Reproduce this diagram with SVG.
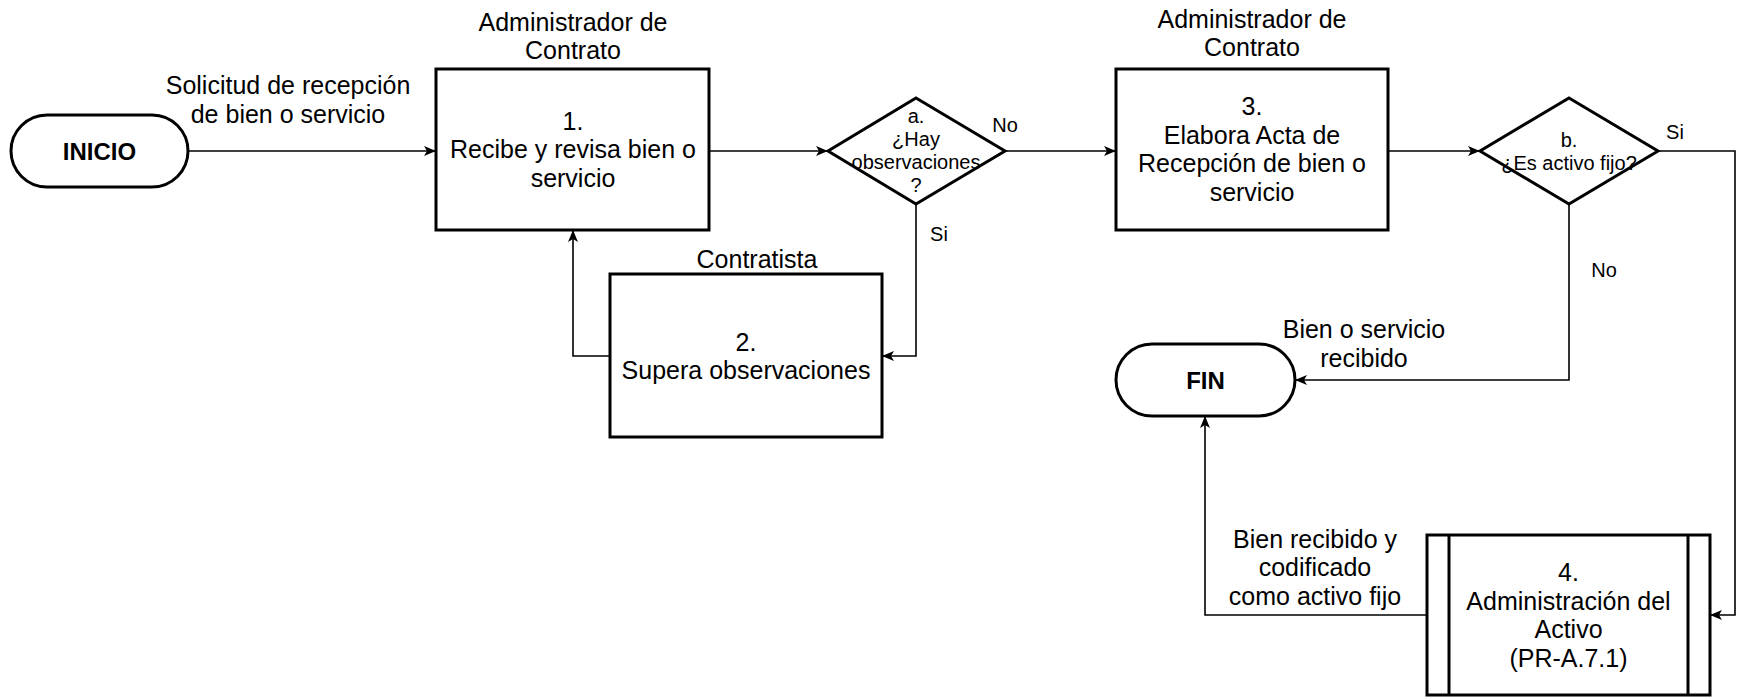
<svg xmlns="http://www.w3.org/2000/svg" width="1743" height="698" viewBox="0 0 1743 698">
<style>
text{font-family:"Liberation Sans",Arial,sans-serif;fill:#000;text-anchor:middle}
.t{font-size:25px}
.s{font-size:20px}
.b{font-size:24px;font-weight:bold}
.shape{fill:#fff;stroke:#000;stroke-width:3}
.conn{fill:none;stroke:#000;stroke-width:1.6}
</style>
<defs>
<marker id="arr" viewBox="0 0 12 10" refX="11" refY="5" markerWidth="12" markerHeight="10" markerUnits="userSpaceOnUse" orient="auto">
<path d="M0,0 L12,5 L0,10 L3,5 z" fill="#000"/>
</marker>
</defs>
<rect width="1743" height="698" fill="#fff"/>
<g id="connectors">
<path class="conn" d="M188,151 H435" marker-end="url(#arr)"/>
<path class="conn" d="M709,151 H827" marker-end="url(#arr)"/>
<path class="conn" d="M1005,151 H1115" marker-end="url(#arr)"/>
<path class="conn" d="M1388,151 H1479" marker-end="url(#arr)"/>
<path class="conn" d="M916,204 V356 H883" marker-end="url(#arr)"/>
<path class="conn" d="M610,356 H573 V231" marker-end="url(#arr)"/>
<path class="conn" d="M1658,151 H1735 V615 H1711" marker-end="url(#arr)"/>
<path class="conn" d="M1569,204 V380 H1296" marker-end="url(#arr)"/>
<path class="conn" d="M1427,615 H1205 V417" marker-end="url(#arr)"/>
<text class="t" x="288" y="94">Solicitud de recepción</text>
<text class="t" x="288" y="123">de bien o servicio</text>
<text class="s" x="1005" y="132">No</text>
<text class="s" x="939" y="241">Si</text>
<text class="s" x="1675" y="139">Si</text>
<text class="s" x="1604" y="277">No</text>
<text class="t" x="1364" y="338">Bien o servicio</text>
<text class="t" x="1364" y="367">recibido</text>
<text class="t" x="1315" y="548">Bien recibido y</text>
<text class="t" x="1315" y="576">codificado</text>
<text class="t" x="1315" y="605">como activo fijo</text>
</g>
<g id="inicio">
<rect class="shape" x="11" y="115" width="177" height="72" rx="36" ry="36"/>
<text class="b" x="99.5" y="159.5">INICIO</text>
</g>
<g id="step1">
<text class="t" x="573" y="31">Administrador de</text>
<text class="t" x="573" y="59">Contrato</text>
<rect class="shape" x="436" y="69" width="273" height="161"/>
<text class="t" x="573" y="129.5">1.</text>
<text class="t" x="573" y="158">Recibe y revisa bien o</text>
<text class="t" x="573" y="186.5">servicio</text>
</g>
<g id="decision-a">
<polygon class="shape" points="916,98 1005,151 916,204 828,151"/>
<text class="s" x="916" y="122.5">a.</text>
<text class="s" x="916" y="145.5">¿Hay</text>
<text class="s" x="916" y="168.5">observaciones</text>
<text class="s" x="916" y="191.5">?</text>
</g>
<g id="step2">
<text class="t" x="757" y="268">Contratista</text>
<rect class="shape" x="610" y="274" width="272" height="163"/>
<text class="t" x="746" y="351">2.</text>
<text class="t" x="746" y="379">Supera observaciones</text>
</g>
<g id="step3">
<text class="t" x="1252" y="28">Administrador de</text>
<text class="t" x="1252" y="56">Contrato</text>
<rect class="shape" x="1116" y="69" width="272" height="161"/>
<text class="t" x="1252" y="115">3.</text>
<text class="t" x="1252" y="143.5">Elabora Acta de</text>
<text class="t" x="1252" y="172">Recepción de bien o</text>
<text class="t" x="1252" y="200.5">servicio</text>
</g>
<g id="decision-b">
<polygon class="shape" points="1569,98 1658,151 1569,204 1480,151"/>
<text class="s" x="1569" y="146.5">b.</text>
<text class="s" x="1569" y="169.5">¿Es activo fijo?</text>
</g>
<g id="fin">
<rect class="shape" x="1116" y="344" width="179" height="72" rx="36" ry="36"/>
<text class="b" x="1205.5" y="388.5">FIN</text>
</g>
<g id="step4">
<rect class="shape" x="1427" y="535" width="283" height="160"/>
<line class="shape" x1="1449" y1="535" x2="1449" y2="695"/>
<line class="shape" x1="1688" y1="535" x2="1688" y2="695"/>
<text class="t" x="1568.5" y="581">4.</text>
<text class="t" x="1568.5" y="609.5">Administración del</text>
<text class="t" x="1568.5" y="638">Activo</text>
<text class="t" x="1568.5" y="666.5">(PR-A.7.1)</text>
</g>
</svg>
